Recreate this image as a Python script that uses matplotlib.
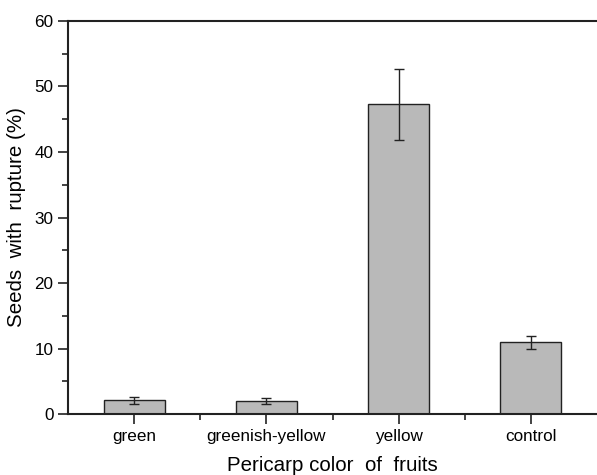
import numpy as np
import matplotlib.pyplot as plt
from matplotlib.ticker import MultipleLocator, FixedLocator

plt.rcParams["font.family"] = ["Liberation Sans", "DejaVu Sans"]

categories = ["green", "greenish-yellow", "yellow", "control"]
values = [2.1, 2.0, 47.3, 10.95]
errors = [0.6, 0.5, 5.4, 1.0]

# --------------------------------------------------------------------------- #
fig = plt.figure(figsize=(5.97, 4.75), dpi=100)
ax = fig.add_axes([0.114, 0.128, 0.886, 0.828])

x = np.arange(len(categories))
ax.bar(x, values, width=0.46, color="#b9b9b9", edgecolor="#222222", linewidth=1.0,
       yerr=errors, capsize=3.3, error_kw=dict(ecolor="#222222", elinewidth=1.0,
                                               capthick=1.0))

ax.set_xlim(-0.5, 3.5)
ax.set_ylim(0, 60)
ax.set_xticks(x)
ax.set_xticklabels(categories)
ax.xaxis.set_minor_locator(FixedLocator([0.5, 1.5, 2.5]))
ax.yaxis.set_major_locator(MultipleLocator(10))
ax.yaxis.set_minor_locator(MultipleLocator(5))
ax.tick_params(axis="both", which="major", direction="out", length=7, width=1.2,
               labelsize=12.3, color="#222222")
ax.tick_params(axis="both", which="minor", direction="out", length=4, width=1.2,
               color="#222222")

for side in ["left", "bottom", "top"]:
    ax.spines[side].set_linewidth(1.5)
    ax.spines[side].set_color("#222222")
ax.spines["right"].set_visible(False)

ax.set_xlabel("Pericarp color  of  fruits", fontsize=14.8, labelpad=9)
ax.set_ylabel("Seeds  with  rupture (%)", fontsize=14.8, labelpad=6)

plt.savefig("out.png", dpi=100)
